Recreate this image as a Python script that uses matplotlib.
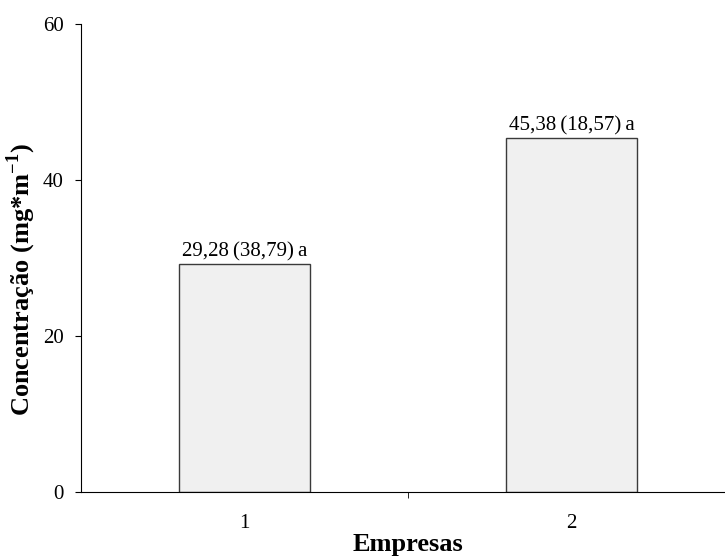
import matplotlib
matplotlib.use("Agg")
import matplotlib.pyplot as plt
import numpy as np

plt.rcParams['font.family'] = ['Liberation Serif', 'DejaVu Serif']
plt.rcParams['mathtext.fontset'] = 'custom'
plt.rcParams['mathtext.rm'] = 'Liberation Serif'
plt.rcParams['mathtext.bf'] = 'Liberation Serif:bold'

empresas = ['1', '2']
concentracao = [29.28, 45.38]
cv = [38.79, 18.57]
letras = ['a', 'a']

fig = plt.figure(figsize=(7.25, 5.58), dpi=100)
ax = fig.add_axes([81/725, 66/558, 654/725, 468/558])

x = np.arange(1, len(empresas) + 1)
bars = ax.bar(x, concentracao, width=0.4, color='#f0f0f0', edgecolor='#3a3a3a', linewidth=1)

# rotulos acima das barras (espacos finos como no original)
for xi, v, c, l in zip(x, concentracao, cv, letras):
    lbl = f"{v:.2f}\u2009({c:.2f})\u2009{l}".replace('.', ',')
    ax.annotate(lbl, (xi, v), xytext=(0, 1.5), textcoords='offset points',
                ha='center', va='bottom', fontsize=15)

ax.set_xlim(0.5, 2.5)
ax.set_ylim(0, 60)
ax.set_yticks([0, 20, 40, 60])
ax.set_xticks(x)
ax.set_xticklabels(empresas)
ax.set_xticks([1.5], minor=True)
ax.tick_params(axis='x', which='major', length=0, pad=16, labelsize=15)
ax.tick_params(axis='x', which='minor', length=4, direction='out')
ax.tick_params(axis='y', length=4.5, labelsize=15, pad=8)

ax.spines['top'].set_visible(False)
ax.spines['right'].set_visible(False)

ax.set_xlabel('Empresas', fontsize=19, fontweight='bold')
ax.xaxis.set_label_coords(0.5, -0.088)
ax.set_ylabel('Concentração (mg*m$^{\\mathbf{-1}}$)', fontsize=19, fontweight='bold')
ax.yaxis.set_label_coords(-0.066, 0.453)

fig.savefig('out.png', dpi=100)
